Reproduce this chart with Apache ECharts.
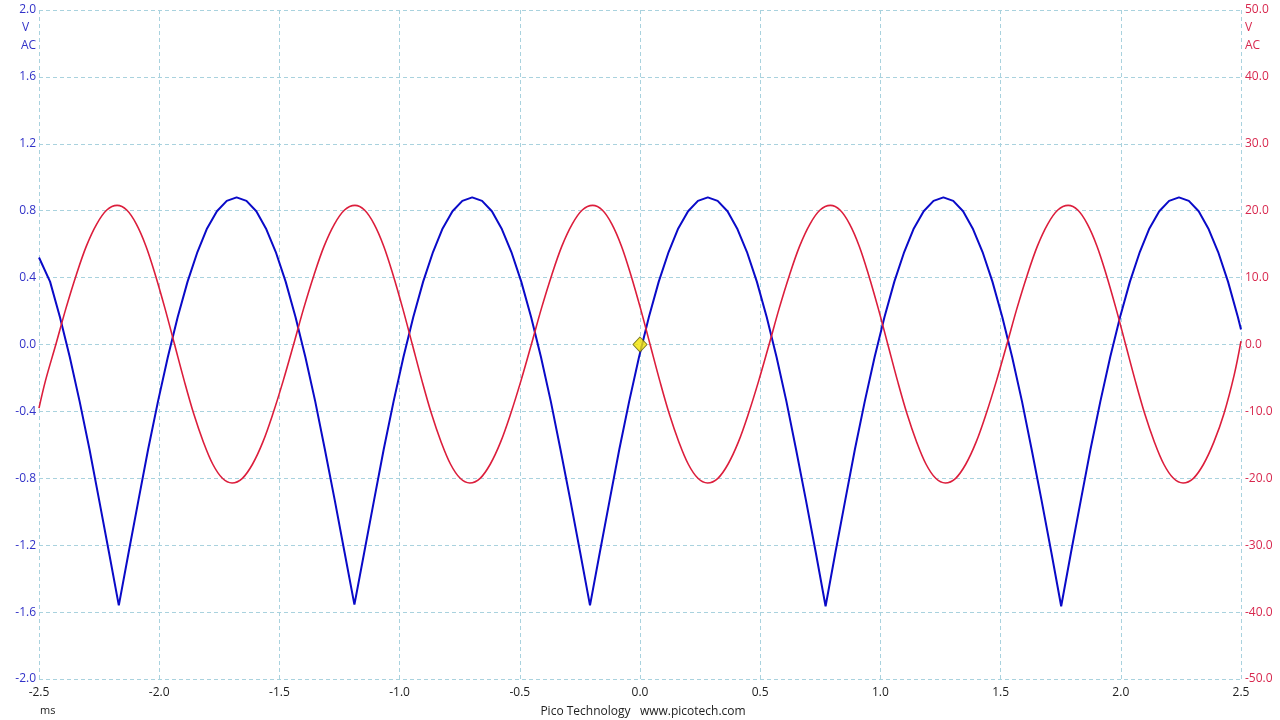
<!DOCTYPE html>
<html><head><meta charset="utf-8">
<script src="https://cdn.jsdelivr.net/npm/echarts@6/dist/echarts.min.js"></script>
<style>html,body{margin:0;padding:0;background:#fff}#c{width:1280px;height:720px}</style>
</head><body><div id="c"></div>
<script>
// time axis (ms)
const xMin = -2.5, xMax = 2.5, xStep = 0.5;
// left axis (blue, V)
const leftMin = -2.0, leftMax = 2.0, leftStep = 0.4;
// right axis (red, V)
const rightMin = -50, rightMax = 50, rightStep = 10;
const unitLabels = ['V', 'AC'];
const xUnit = 'ms';
const footer = 'Pico Technology   www.picotech.com';

// Channel A (blue, left axis) [ms, V]
const blueTrace = [
[-2.5,0.52],[-2.454,0.376],[-2.413,0.165],[-2.372,-0.075],[-2.331,-0.340],[-2.290,-0.626],[-2.250,-0.929],[-2.209,-1.242],[-2.168,-1.560],
[-2.127,-1.242],[-2.086,-0.929],[-2.046,-0.626],[-2.005,-0.340],[-1.964,-0.075],[-1.923,0.165],[-1.882,0.376],[-1.841,0.553],[-1.801,0.694],[-1.760,0.797],[-1.719,0.859],[-1.678,0.880],[-1.637,0.859],[-1.596,0.797],[-1.556,0.694],[-1.515,0.553],[-1.474,0.376],[-1.433,0.165],[-1.392,-0.075],[-1.351,-0.340],[-1.311,-0.626],[-1.270,-0.929],[-1.229,-1.242],[-1.188,-1.555],
[-1.147,-1.242],[-1.106,-0.929],[-1.066,-0.626],[-1.025,-0.340],[-0.984,-0.075],[-0.943,0.165],[-0.902,0.376],[-0.861,0.553],[-0.821,0.694],[-0.780,0.797],[-0.739,0.859],[-0.698,0.880],[-0.657,0.859],[-0.616,0.797],[-0.576,0.694],[-0.535,0.553],[-0.494,0.376],[-0.453,0.165],[-0.412,-0.075],[-0.371,-0.340],[-0.331,-0.626],[-0.290,-0.929],[-0.249,-1.242],[-0.208,-1.560],
[-0.167,-1.242],[-0.126,-0.929],[-0.086,-0.626],[-0.045,-0.340],[-0.004,-0.075],[0.037,0.165],[0.078,0.376],[0.119,0.553],[0.159,0.694],[0.200,0.797],[0.241,0.859],[0.282,0.880],[0.323,0.859],[0.364,0.797],[0.404,0.694],[0.445,0.553],[0.486,0.376],[0.527,0.165],[0.568,-0.075],[0.609,-0.340],[0.649,-0.626],[0.690,-0.929],[0.731,-1.242],[0.772,-1.565],
[0.813,-1.242],[0.854,-0.929],[0.894,-0.626],[0.935,-0.340],[0.976,-0.075],[1.017,0.165],[1.058,0.376],[1.099,0.553],[1.139,0.694],[1.180,0.797],[1.221,0.859],[1.262,0.880],[1.303,0.859],[1.344,0.797],[1.384,0.694],[1.425,0.553],[1.466,0.376],[1.507,0.165],[1.548,-0.075],[1.589,-0.340],[1.629,-0.626],[1.670,-0.929],[1.711,-1.242],[1.752,-1.565],
[1.793,-1.242],[1.834,-0.929],[1.874,-0.626],[1.915,-0.340],[1.956,-0.075],[1.997,0.165],[2.038,0.376],[2.079,0.553],[2.119,0.694],[2.160,0.797],[2.201,0.859],[2.242,0.880],[2.283,0.859],[2.324,0.797],[2.364,0.694],[2.405,0.553],[2.446,0.376],[2.487,0.165],[2.5,0.09]
];

// Channel B (red, right axis) [ms, V]
const redTrace = [
[-2.5,-9.5],[-2.473,-5.4],[-2.430,0],[-2.388,5.4],[-2.345,10.4],[-2.303,14.7],[-2.260,18.0],[-2.218,20.1],[-2.175,20.8],
[-2.135,20.1],[-2.095,18.0],[-2.055,14.7],[-2.016,10.4],[-1.976,5.4],[-1.936,0],[-1.896,-5.4],[-1.856,-10.4],[-1.816,-14.6],[-1.777,-17.9],[-1.737,-20.0],[-1.697,-20.7],
[-1.654,-20.0],[-1.612,-17.9],[-1.569,-14.6],[-1.527,-10.35],[-1.484,-5.4],[-1.441,0],[-1.399,5.4],[-1.356,10.4],[-1.314,14.7],[-1.271,18.0],[-1.229,20.1],[-1.186,20.8],
[-1.146,20.1],[-1.106,18.0],[-1.066,14.7],[-1.027,10.4],[-0.987,5.4],[-0.947,0],[-0.907,-5.4],[-0.867,-10.4],[-0.827,-14.6],[-0.788,-17.9],[-0.748,-20.0],[-0.708,-20.7],
[-0.665,-20.0],[-0.623,-17.9],[-0.580,-14.6],[-0.538,-10.35],[-0.495,-5.4],[-0.452,0],[-0.410,5.4],[-0.367,10.4],[-0.325,14.7],[-0.282,18.0],[-0.240,20.1],[-0.197,20.8],
[-0.157,20.1],[-0.117,18.0],[-0.077,14.7],[-0.038,10.4],[0.002,5.4],[0.042,0],[0.082,-5.4],[0.122,-10.4],[0.162,-14.6],[0.201,-17.9],[0.241,-20.0],[0.281,-20.7],
[0.324,-20.0],[0.366,-17.9],[0.409,-14.6],[0.451,-10.35],[0.494,-5.4],[0.537,0],[0.579,5.4],[0.622,10.4],[0.664,14.7],[0.707,18.0],[0.749,20.1],[0.792,20.8],
[0.832,20.1],[0.872,18.0],[0.912,14.7],[0.951,10.4],[0.991,5.4],[1.031,0],[1.071,-5.4],[1.111,-10.4],[1.151,-14.6],[1.190,-17.9],[1.230,-20.0],[1.270,-20.7],
[1.313,-20.0],[1.355,-17.9],[1.398,-14.6],[1.440,-10.35],[1.483,-5.4],[1.526,0],[1.568,5.4],[1.611,10.4],[1.653,14.7],[1.696,18.0],[1.738,20.1],[1.781,20.8],
[1.821,20.1],[1.861,18.0],[1.901,14.7],[1.940,10.4],[1.980,5.4],[2.020,0],[2.060,-5.4],[2.100,-10.4],[2.140,-14.6],[2.179,-17.9],[2.219,-20.0],[2.259,-20.7],
[2.302,-20.0],[2.344,-17.9],[2.387,-14.6],[2.429,-10.35],[2.472,-4.5],[2.5,0.5]
];

// trigger marker
const triggerPoint = [[0, 0]];

const BLUE = '#0a0ac8', RED = '#dc1e3c';
const BLUE_LBL = '#3232c8', RED_LBL = '#d8284e';
const FONT = '"Open Sans", "Noto Sans", sans-serif';
const gridLine = { show: true, lineStyle: { color: '#a9d2de', type: [4, 3], width: 1 } };

const chart = echarts.init(document.getElementById('c'), null, { renderer: 'canvas' });
chart.setOption({
  animation: false,
  backgroundColor: '#ffffff',
  grid: { left: 39, right: 39, top: 10, bottom: 41, containLabel: false },
  xAxis: {
    type: 'value', min: xMin, max: xMax, interval: xStep,
    axisLine: { show: false }, axisTick: { show: false },
    axisLabel: { color: '#222', fontFamily: FONT, fontSize: 12, margin: 8, formatter: v => v.toFixed(1) },
    splitLine: gridLine
  },
  yAxis: [{
    type: 'value', position: 'left', min: leftMin, max: leftMax, interval: leftStep,
    axisLine: { show: false }, axisTick: { show: false },
    axisLabel: { color: BLUE_LBL, fontFamily: FONT, fontSize: 12, margin: 3, formatter: v => v.toFixed(1) },
    splitLine: gridLine
  }, {
    type: 'value', position: 'right', min: rightMin, max: rightMax, interval: rightStep,
    axisLine: { show: false }, axisTick: { show: false },
    axisLabel: { color: RED_LBL, fontFamily: FONT, fontSize: 12, margin: 4, formatter: v => v.toFixed(1) },
    splitLine: { show: false }
  }],
  graphic: [
    { type: 'text', left: 22, top: 22, style: { text: unitLabels[0], fill: BLUE_LBL, font: '12px ' + FONT } },
    { type: 'text', left: 21, top: 40, style: { text: unitLabels[1], fill: BLUE_LBL, font: '12px ' + FONT } },
    { type: 'text', left: 1245, top: 22, style: { text: unitLabels[0], fill: RED_LBL, font: '12px ' + FONT } },
    { type: 'text', left: 1245, top: 40, style: { text: unitLabels[1], fill: RED_LBL, font: '12px ' + FONT } },
    { type: 'text', left: 40, top: 705, style: { text: xUnit, fill: '#222', font: '11px ' + FONT } },
    { type: 'text', x: 643, y: 712, style: { text: footer, fill: '#222', font: '12px ' + FONT, textAlign: 'center', textVerticalAlign: 'middle' } }
  ],
  series: [{
    type: 'line', yAxisIndex: 0, data: blueTrace, showSymbol: false, smooth: false,
    lineStyle: { color: BLUE, width: 2 }, z: 2
  }, {
    type: 'line', yAxisIndex: 1, data: redTrace, showSymbol: false, smooth: 0.35,
    lineStyle: { color: RED, width: 1.6 }, z: 3
  }, {
    type: 'scatter', yAxisIndex: 0, data: triggerPoint, symbol: 'diamond', symbolSize: [14, 15],
    itemStyle: { color: '#f2e400', borderColor: '#5a5a00', borderWidth: 1 }, z: 5
  }]
});
</script>
</body></html>
